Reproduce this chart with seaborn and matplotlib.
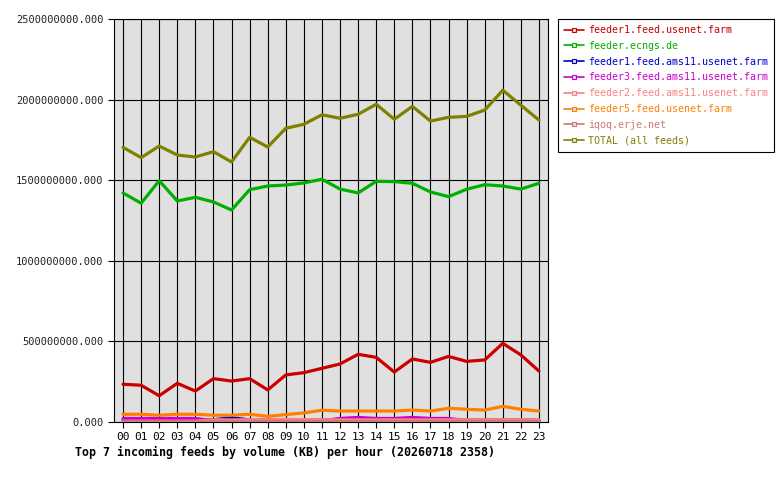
import matplotlib
matplotlib.use("Agg")
import matplotlib.pyplot as plt
import seaborn as sns
import pandas as pd
import numpy as np
from matplotlib.lines import Line2D
from matplotlib.ticker import FuncFormatter, MultipleLocator

hours = [f"{h:02d}" for h in range(24)]

feeds = [
    "feeder1.feed.usenet.farm",
    "feeder.ecngs.de",
    "feeder1.feed.ams11.usenet.farm",
    "feeder3.feed.ams11.usenet.farm",
    "feeder2.feed.ams11.usenet.farm",
    "feeder5.feed.usenet.farm",
    "iqoq.erje.net",
    "TOTAL (all feeds)",
]
colors = ["#CC0000", "#00B000", "#0000CC", "#CC00CC", "#FF8080", "#FF8000", "#C87878", "#808000"]

feeder1_usenet = [0.234, 0.228, 0.163, 0.240, 0.192, 0.269, 0.254, 0.269, 0.199, 0.292, 0.306, 0.333,
                  0.360, 0.420, 0.401, 0.310, 0.391, 0.370, 0.407, 0.376, 0.385, 0.488, 0.416, 0.316]
ecngs = [1.421, 1.357, 1.497, 1.371, 1.394, 1.365, 1.315, 1.441, 1.464, 1.470, 1.483, 1.506,
         1.445, 1.421, 1.493, 1.491, 1.481, 1.427, 1.398, 1.444, 1.472, 1.464, 1.445, 1.481]
feeder1_ams11 = [0.012, 0.012, 0.012, 0.012, 0.012, 0.014, 0.026, 0.013, 0.012, 0.012, 0.012, 0.012,
                 0.012, 0.012, 0.012, 0.012, 0.012, 0.012, 0.012, 0.012, 0.012, 0.012, 0.012, 0.012]
feeder3_ams11 = [0.022, 0.022, 0.022, 0.022, 0.022, 0.008, 0.008, 0.008, 0.008, 0.008, 0.008, 0.008,
                 0.022, 0.028, 0.022, 0.022, 0.028, 0.022, 0.022, 0.008, 0.008, 0.008, 0.008, 0.008]
feeder2_ams11 = [0.005, 0.005, 0.005, 0.005, 0.005, 0.014, 0.013, 0.014, 0.014, 0.016, 0.015, 0.014,
                 0.013, 0.013, 0.013, 0.013, 0.013, 0.013, 0.013, 0.014, 0.014, 0.014, 0.014, 0.014]
feeder5_usenet = [0.048, 0.048, 0.042, 0.048, 0.048, 0.042, 0.042, 0.048, 0.035, 0.046, 0.056, 0.073,
                  0.068, 0.068, 0.068, 0.068, 0.074, 0.068, 0.085, 0.079, 0.074, 0.097, 0.079, 0.068]
iqoq = [0.008] * 24
total = [1.704, 1.640, 1.712, 1.656, 1.644, 1.677, 1.613, 1.766, 1.706, 1.822, 1.847, 1.906,
         1.884, 1.909, 1.971, 1.878, 1.958, 1.867, 1.890, 1.896, 1.935, 2.058, 1.965, 1.873]

series = [feeder1_usenet, ecngs, feeder1_ams11, feeder3_ams11, feeder2_ams11, feeder5_usenet, iqoq, total]

rows = []
for name, vals in zip(feeds, series):
    for h, v in enumerate(vals):
        rows.append({"hour": h, "value": v * 1e9, "feed": name})
df = pd.DataFrame(rows)

sns.set_style("white")
plt.rcParams["font.family"] = ["DejaVu Sans Mono"]

fig = plt.figure(figsize=(7.8, 4.8), dpi=100)
ax = fig.add_axes([114 / 780, 58 / 480, 434 / 780, 403 / 480])
ax.set_facecolor("#E0E0E0")

sns.lineplot(data=df, x="hour", y="value", hue="feed", hue_order=feeds,
             palette=dict(zip(feeds, colors)), linewidth=2.3, ax=ax, legend=False,
             zorder=3)

ax.set_xlim(-0.5, 23.5)
ax.set_ylim(0, 2.5e9)
ax.set_xticks(range(24))
ax.set_xticklabels(hours)
ax.yaxis.set_major_locator(MultipleLocator(5e8))
ax.yaxis.set_major_formatter(FuncFormatter(lambda v, p: f"{v:.3f}"))
ax.grid(True, color="black", linewidth=0.8, zorder=1)
ax.set_axisbelow(True)
for s in ax.spines.values():
    s.set_color("black")
    s.set_linewidth(0.8)
ax.tick_params(axis="both", which="both", direction="out", length=4, width=0.8,
               colors="black", labelsize=7.5, left=True, bottom=True)
ax.tick_params(axis="x", labelsize=8)
ax.tick_params(axis="y", labelcolor="#222222")
ax.set_xlabel("")
ax.set_ylabel("")

handles = [Line2D([0], [0], color=c, linewidth=1.2, marker="s", markersize=3,
                  markerfacecolor="#E0E0E0", markeredgecolor=c, markeredgewidth=0.8)
           for c in colors]
leg = fig.legend(handles, feeds, loc="upper left", bbox_to_anchor=(558 / 780, 1 - 19 / 480),
                 fontsize=7.2, frameon=True, fancybox=False, framealpha=1, edgecolor="black",
                 handlelength=2.0, handletextpad=0.4, labelspacing=0.58, borderpad=0.6,
                 borderaxespad=0)
leg.get_frame().set_linewidth(0.8)
for t, c in zip(leg.get_texts(), colors):
    t.set_color(c)

fig.text(75 / 780, 1 - 452 / 480, "Top 7 incoming feeds by volume (KB) per hour (20260718 2358)",
         fontsize=8.4, fontweight="bold", color="black", va="center", ha="left")

fig.savefig("out.png", dpi=100, facecolor="white")
